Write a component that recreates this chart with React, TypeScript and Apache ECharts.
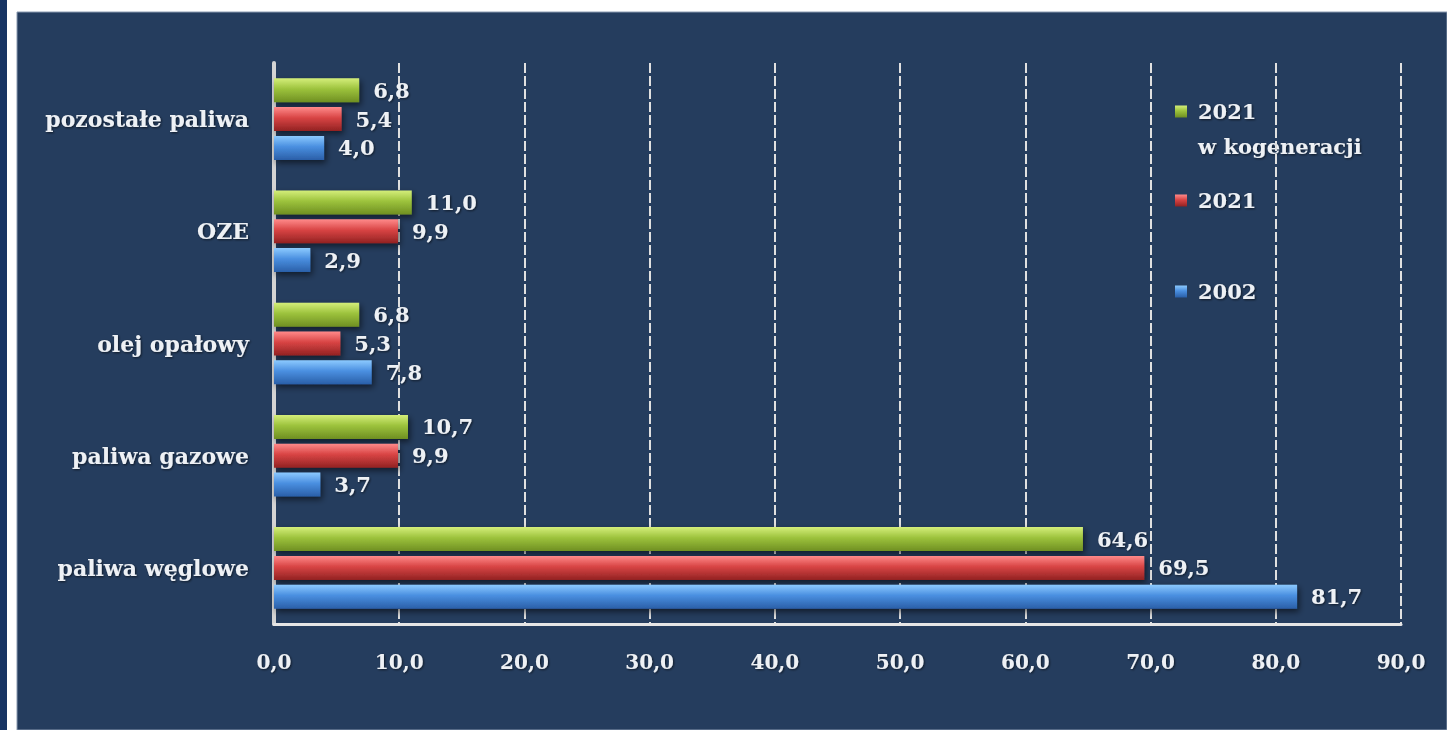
import React, { useEffect, useRef } from "react";
import * as echarts from "echarts";

// categories listed bottom-to-top (ECharts category axis order)
const categories = ["paliwa węglowe", "paliwa gazowe", "olej opałowy", "OZE", "pozostałe paliwa"];
const seriesNames = ["2021 w kogeneracji", "2021", "2002"];
const kogeneracja2021 = [64.6, 10.7, 6.8, 11.0, 6.8];
const values2021 = [69.5, 9.9, 5.3, 9.9, 5.4];
const values2002 = [81.7, 3.7, 7.8, 2.9, 4.0];
const xTicks = [0, 10, 20, 30, 40, 50, 60, 70, 80, 90];

const FONT = "DejaVu Serif";
const TEXT = "#eef1f5";
const SHADOW = {
  textShadowColor: "rgba(0,0,0,0.6)",
  textShadowBlur: 2,
  textShadowOffsetX: 1,
  textShadowOffsetY: 1,
};

const fmt = (v: number) => v.toFixed(1).replace(".", ",");

const grad = (top: string, mid: string, bottom: string) =>
  new echarts.graphic.LinearGradient(0, 0, 0, 1, [
    { offset: 0, color: top },
    { offset: 0.45, color: mid },
    { offset: 1, color: bottom },
  ]);

export default function App() {
  const ref = useRef<HTMLDivElement>(null);
  useEffect(() => {
    if (!ref.current) return;
    const chart = echarts.init(ref.current, null, { renderer: "svg" });
    const colors = [
      grad("#d4ee7a", "#9cc23c", "#6f8f22"),
      grad("#ff8a8a", "#d84444", "#922222"),
      grad("#8ccaff", "#4a8fe0", "#2a5fa8"),
    ];
    const solid = ["#9cc23c", "#d84444", "#4a8fe0"];
    const dataSets = [kogeneracja2021, values2021, values2002];
    const legendTops = [96, 185, 276];
    const option: any = {
      animation: false,
      backgroundColor: "#ffffff",
      graphic: [
        { type: "rect", z: -100, shape: { x: 0, y: 0, width: 7, height: 730 }, style: { fill: "#163463" } },
        { type: "rect", z: -100, shape: { x: 17, y: 12, width: 1430, height: 718 }, style: { fill: "#253d5e", stroke: "#8a9ab0", lineWidth: 1 } },
        {
          type: "text",
          left: 1198,
          top: 136,
          style: {
            text: "w kogeneracji",
            fill: TEXT,
            font: `bold 21px "${FONT}"`,
            textShadowColor: "rgba(0,0,0,0.6)",
            textShadowBlur: 2,
            textShadowOffsetX: 1,
            textShadowOffsetY: 1,
          },
        },
      ],
      legend: seriesNames.map((n, i) => ({
        data: [n],
        orient: "vertical",
        left: 1170,
        top: legendTops[i],
        itemWidth: 12,
        itemHeight: 12,
        itemGap: 8,
        icon: "rect",
        formatter: () => (i === 0 ? "2021" : n),
        textStyle: {
          color: TEXT,
          fontFamily: FONT,
          fontSize: 21,
          fontWeight: "bold",
          padding: [0, 0, 0, 6],
          ...SHADOW,
        },
      })),
      grid: { left: 274, right: 46, top: 63, bottom: 106, containLabel: false },
      xAxis: {
        type: "value",
        min: xTicks[0],
        max: xTicks[xTicks.length - 1],
        interval: 10,
        axisLine: { show: true, lineStyle: { color: "#e6e6e6", width: 3 } },
        axisTick: { show: false },
        axisLabel: {
          color: TEXT,
          fontFamily: FONT,
          fontSize: 20,
          fontWeight: "bold",
          margin: 28,
          formatter: (v: number) => fmt(v),
          ...SHADOW,
        },
        splitLine: { show: true, lineStyle: { color: "#e0e0e0", width: 2, type: [10, 3] } },
      },
      yAxis: {
        type: "category",
        data: categories,
        axisLine: { show: true, lineStyle: { color: "#d4d4d4", width: 4 } },
        axisTick: { show: false },
        axisLabel: { color: TEXT, fontFamily: FONT, fontSize: 22, fontWeight: "bold", margin: 25, ...SHADOW },
      },
      series: seriesNames.map((n, i) => ({
        name: n,
        type: "bar",
        data: dataSets[i],
        barWidth: 24,
        barGap: "20%",
        color: solid[i],
        itemStyle: {
          color: colors[i],
          shadowColor: "rgba(0,0,0,0.55)",
          shadowBlur: 6,
          shadowOffsetY: 3,
          shadowOffsetX: 2,
        },
        label: {
          show: true,
          position: "right",
          distance: 14,
          color: TEXT,
          fontFamily: FONT,
          fontSize: 21,
          fontWeight: "bold",
          formatter: (p: any) => fmt(p.value),
          ...SHADOW,
        },
      })),
    };
    chart.setOption(option);
    return () => chart.dispose();
  }, []);
  return (
    <div
      ref={ref}
      style={{ position: "fixed", left: 0, top: 0, width: 1447, height: 730 }}
    />
  );
}
